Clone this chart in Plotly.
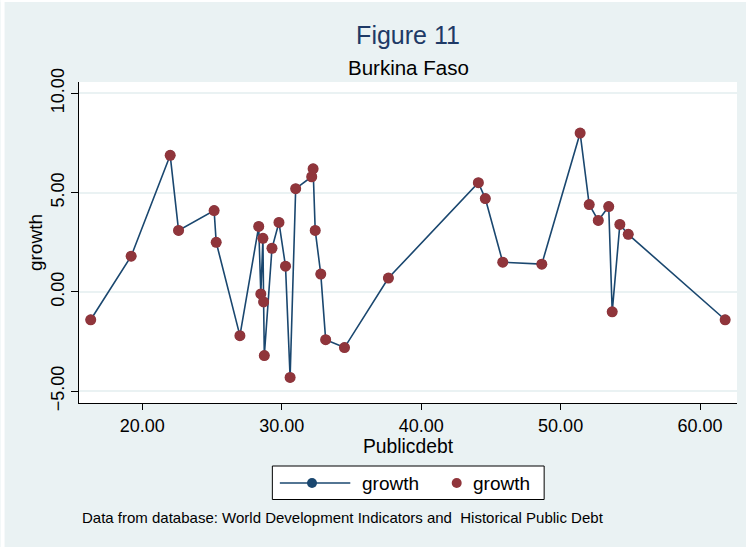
import plotly.graph_objects as go

# Public debt (% of GDP) and GDP growth (%), Burkina Faso
publicdebt = [16.3, 19.2, 22.0, 22.6, 25.15, 25.3, 27.0, 28.35, 28.5, 28.65,
              28.7, 28.75, 29.3, 29.8, 30.27, 30.6, 31.0, 32.15, 32.25, 32.4,
              32.8, 33.15, 34.5, 37.65, 44.1, 44.6, 45.85, 48.65, 51.4, 52.05,
              52.7, 53.45, 53.7, 54.25, 54.85, 61.8]
growth = [-1.4, 1.8, 6.88, 3.1, 4.1, 2.5, -2.2, 3.3, -0.1, 2.7,
          -0.5, -3.2, 2.2, 3.5, 1.3, -4.3, 5.2, 5.8, 6.2, 3.1,
          0.9, -2.4, -2.8, 0.7, 5.5, 4.7, 1.5, 1.4, 8.0, 4.4,
          3.6, 4.3, -1.0, 3.4, 2.9, -1.4]

x_ticks = [20, 30, 40, 50, 60]
y_ticks = [-5, 0, 5, 10]
series_label = "growth"

NAVY = "#1a476f"
MAROON = "#90353b"
BG = "#eaf2f3"
FONT = "Liberation Sans, Arial, sans-serif"

fig = go.Figure()
fig.add_trace(go.Scatter(
    x=publicdebt, y=growth, mode="lines+markers", name=series_label,
    line=dict(color=NAVY, width=1.6),
    marker=dict(color=NAVY, size=10),
))
fig.add_trace(go.Scatter(
    x=publicdebt, y=growth, mode="markers", name=series_label,
    marker=dict(color=MAROON, size=11, line=dict(width=0)),
))

W, H = 746, 547
L, R, T, B = 78.5, 9, 82, 144
pw, ph = W - L - R, H - T - B


def px_x(p):
    return (p - L) / pw


def px_y(p):
    return (H - B - p) / ph


# hand-built legend box below the plot
leg_y = px_y(483)
shapes = [
    dict(type="rect", xref="paper", yref="paper", layer="above",
         x0=px_x(0), x1=px_x(4), y0=px_y(H), y1=px_y(0),
         fillcolor="white", line=dict(width=0)),
    dict(type="rect", xref="paper", yref="paper", layer="above",
         x0=px_x(0), x1=px_x(W), y0=px_y(2), y1=px_y(0),
         fillcolor="white", line=dict(width=0)),
    dict(type="rect", xref="paper", yref="paper",
         x0=px_x(272), x1=px_x(544), y0=px_y(499.5), y1=px_y(466),
         fillcolor="white", line=dict(color="black", width=1)),
    dict(type="line", xref="paper", yref="paper",
         x0=px_x(279.5), x1=px_x(350), y0=leg_y, y1=leg_y,
         line=dict(color=NAVY, width=1.6)),
    dict(type="circle", xref="paper", yref="paper",
         x0=px_x(306.7), x1=px_x(316.7), y0=px_y(488), y1=px_y(478),
         fillcolor=NAVY, line=dict(width=0)),
    dict(type="circle", xref="paper", yref="paper",
         x0=px_x(451.5), x1=px_x(461.5), y0=px_y(488), y1=px_y(478),
         fillcolor=MAROON, line=dict(width=0)),
]

annotations = [
    dict(text="Burkina Faso", xref="paper", yref="paper",
         x=0.5, y=px_y(67), xanchor="center", yanchor="middle",
         showarrow=False, font=dict(size=20.5, color="black")),
    dict(text=series_label, xref="paper", yref="paper",
         x=px_x(360), y=leg_y, xanchor="left", yanchor="middle",
         showarrow=False, font=dict(size=19, color="black")),
    dict(text=series_label, xref="paper", yref="paper",
         x=px_x(470.5), y=leg_y, xanchor="left", yanchor="middle",
         showarrow=False, font=dict(size=19, color="black")),
    dict(text="Data from database: World Development Indicators and  Historical Public Debt",
         xref="paper", yref="paper", x=px_x(80), y=px_y(517),
         xanchor="left", yanchor="middle", showarrow=False,
         font=dict(size=15, color="black")),
]

fig.update_layout(
    width=W, height=H,
    margin=dict(l=L, r=R, t=T, b=B, pad=0),
    paper_bgcolor=BG, plot_bgcolor="white",
    font=dict(family=FONT, size=18, color="black"),
    showlegend=False,
    title=dict(text="Figure 11", xref="paper", x=0.5, xanchor="center",
               y=1 - 35 / H, yanchor="middle",
               font=dict(size=25, color="#1e3a66")),
    xaxis=dict(
        range=[15.46, 62.65], tickvals=x_ticks, tickformat=".2f",
        ticks="outside", ticklen=6, tickcolor="black",
        showline=True, linecolor="black", linewidth=1,
        showgrid=False, zeroline=False,
        title=dict(text="Publicdebt", standoff=0, font=dict(size=19.3)),
    ),
    yaxis=dict(
        range=[-5.59, 10.57], tickvals=y_ticks, tickformat=".2f",
        tickangle=-90,
        ticks="outside", ticklen=7, tickcolor="black",
        showline=True, linecolor="black", linewidth=1,
        showgrid=True, gridcolor=BG, gridwidth=1.5, zeroline=False,
        title=dict(text="growth", standoff=0, font=dict(size=19)),
    ),
    annotations=annotations,
    shapes=shapes,
)

fig.write_html("out.html")
